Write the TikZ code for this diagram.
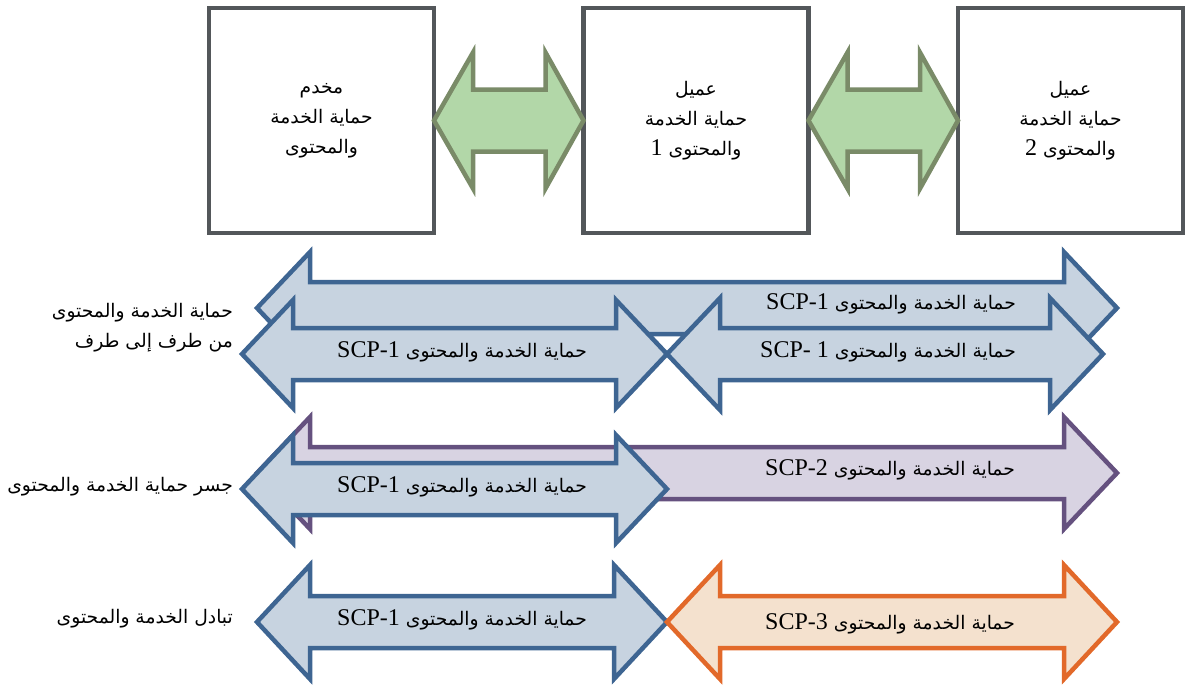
\documentclass[tikz,border=0pt]{standalone}
\usepackage{fontspec}
\setmainfont{Liberation Serif}
\newfontfamily\arabicfont[Script=Arabic,Scale=0.78]{DejaVu Sans}
\TeXXeTstate=1
\usetikzlibrary{calc}
\definecolor{boxgray}{HTML}{53575A}
\definecolor{gline}{HTML}{7A8B68}
\definecolor{gfill}{HTML}{B2D7A8}
\definecolor{bline}{HTML}{3E6592}
\definecolor{bfill}{HTML}{C7D3E0}
\definecolor{pline}{HTML}{65517F}
\definecolor{pfill}{HTML}{D8D3E2}
\definecolor{oline}{HTML}{E2692A}
\definecolor{ofill}{HTML}{F4E1CE}
\newcommand{\AR}[1]{{\arabicfont #1}}
% style, left tip x, right tip x, centre y, head length, half head, half shaft
\newcommand{\dblarr}[7]{%
  \draw[#1] (#2,#4) -- ({#2+#5},{#4-#6}) -- ({#2+#5},{#4-#7}) -- ({#3-#5},{#4-#7})
   -- ({#3-#5},{#4-#6}) -- (#3,#4) -- ({#3-#5},{#4+#6}) -- ({#3-#5},{#4+#7})
   -- ({#2+#5},{#4+#7}) -- ({#2+#5},{#4+#6}) -- cycle;}
\tikzset{
  every node/.style={font=\fontsize{24}{31}\selectfont},
  box/.style={draw=boxgray, line width=4.5pt, fill=white, minimum width=225pt,
    minimum height=225pt, outer sep=0pt, align=center, inner sep=0pt},
  garrow/.style={draw=gline, fill=gfill, line width=4.5pt, line join=miter},
  barrow/.style={draw=bline, fill=bfill, line width=4.5pt, line join=miter},
  parrow/.style={draw=pline, fill=pfill, line width=4.5pt, line join=miter},
  oarrow/.style={draw=oline, fill=ofill, line width=4.5pt, line join=miter},
  lbl/.style={inner sep=0pt, align=center},
  side/.style={inner sep=0pt, align=right, anchor=east},
}
\begin{document}
\begin{tikzpicture}[x=1pt,y=-1pt]
\useasboundingbox (0,0) rectangle (1202,686);
% top boxes
\node[box] (b1) at (321.5,120.5) {\beginR\AR{مخدم}\endR\\[-1pt]\beginR\AR{حماية الخدمة}\endR\\[-1pt]\beginR\AR{والمحتوى}\endR};
\node[box] (b2) at (696,120.5) {\beginR\AR{عميل}\endR\\[-1pt]\beginR\AR{حماية الخدمة}\endR\\[-1pt]\beginR\AR{والمحتوى} \beginL 1\endL\endR};
\node[box] (b3) at (1070.5,120.5) {\beginR\AR{عميل}\endR\\[-1pt]\beginR\AR{حماية الخدمة}\endR\\[-1pt]\beginR\AR{والمحتوى} \beginL 2\endL\endR};
% green block arrows between boxes
\foreach \a/\b in {b1/b2, b2/b3}{
  \draw[garrow] (\a.east) -- ($(\a.east)+(39,-68)$) -- ($(\a.east)+(39,-31)$)
    -- ($(\b.west)+(-38,-31)$) -- ($(\b.west)+(-38,-68)$) -- (\b.west)
    -- ($(\b.west)+(-38,68)$) -- ($(\b.west)+(-38,31)$) -- ($(\a.east)+(39,31)$)
    -- ($(\a.east)+(39,68)$) -- cycle;
}
% row 1
\dblarr{barrow}{257}{1117}{308}{53}{56}{26}
\dblarr{barrow}{242}{667}{354}{51}{54}{26}
\dblarr{barrow}{667}{1103}{354}{53}{56}{26}
% row 2
\dblarr{parrow}{257}{1117}{473}{53}{56}{26}
\dblarr{barrow}{242}{667}{489}{51}{54}{26}
% row 3
\dblarr{barrow}{257}{667}{622}{53}{57}{26}
\dblarr{oarrow}{667}{1117}{622}{53}{57}{26}
% arrow labels
\node[lbl] (t1) at (891,304) {\beginR\AR{حماية الخدمة والمحتوى} \beginL SCP-1\endL\endR};
\node[lbl] (t2) at (888,352) {\beginR\AR{حماية الخدمة والمحتوى} \beginL SCP- 1\endL\endR};
\node[lbl] (t3) at (462,352) {\beginR\AR{حماية الخدمة والمحتوى} \beginL SCP-1\endL\endR};
\node[lbl] (t4) at (890,470) {\beginR\AR{حماية الخدمة والمحتوى} \beginL SCP-2\endL\endR};
\node[lbl] (t5) at (462,487) {\beginR\AR{حماية الخدمة والمحتوى} \beginL SCP-1\endL\endR};
\node[lbl] (t6) at (462,620) {\beginR\AR{حماية الخدمة والمحتوى} \beginL SCP-1\endL\endR};
\node[lbl] (t7) at (890,624) {\beginR\AR{حماية الخدمة والمحتوى} \beginL SCP-3\endL\endR};
% side labels
\node[side] (s1) at (233,328) {\beginR\AR{حماية الخدمة والمحتوى}\endR\\[-1pt]\beginR\AR{من طرف إلى طرف}\endR};
\node[side] (s2) at (233,487) {\beginR\AR{جسر حماية الخدمة والمحتوى}\endR};
\node[side] (s3) at (233,619) {\beginR\AR{تبادل الخدمة والمحتوى}\endR};
\end{tikzpicture}
\end{document}
